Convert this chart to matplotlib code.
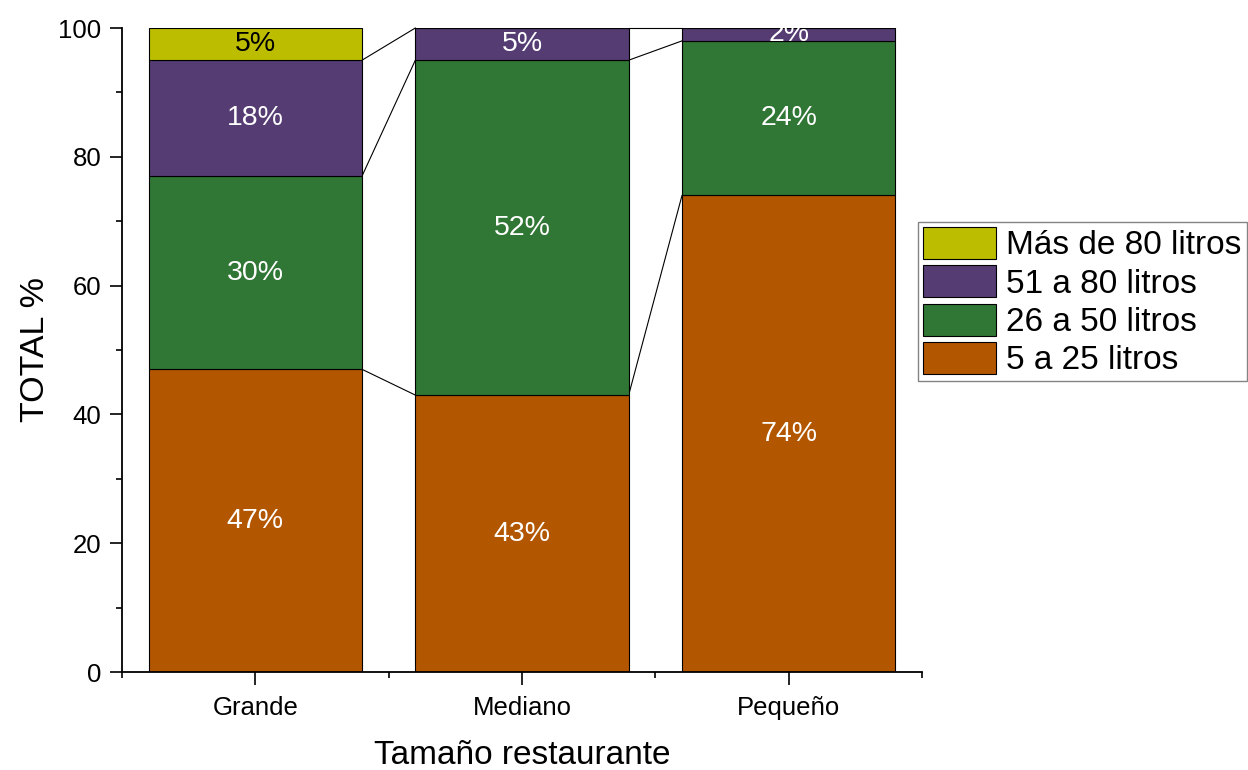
import numpy as np
import matplotlib
matplotlib.use("Agg")
import matplotlib.pyplot as plt
from matplotlib.ticker import MultipleLocator, FixedLocator

plt.rcParams['font.family'] = ['Liberation Sans', 'DejaVu Sans']

# Restaurant size categories and share (%) of each consumption range
categories = ["Grande", "Mediano", "Pequeño"]
series_names = ["5 a 25 litros", "26 a 50 litros", "51 a 80 litros", "Más de 80 litros"]
v_5_25 = [47, 43, 74]
v_26_50 = [30, 52, 24]
v_51_80 = [18, 5, 2]
v_mas_80 = [5, np.nan, np.nan]   # no data for medium and small restaurants

colors = ["#B35600", "#307634", "#553C73", "#BDBD00"]
label_colors = ["white", "white", "white", "black"]

values = [v_5_25, v_26_50, v_51_80, v_mas_80]

fig = plt.figure(figsize=(12.48, 7.7), dpi=100)
ax = fig.add_axes([122 / 1248, 1 - 672 / 770, 800 / 1248, 644 / 770])

x = np.arange(len(categories))
width = 0.8
bottom = np.zeros(len(categories))
tops = []
handles = []
for vals, name, col, lcol in zip(values, series_names, colors, label_colors):
    arr = np.array(vals, dtype=float)
    h = np.nan_to_num(arr)
    bars = ax.bar(x, h, width, bottom=bottom, color=col, edgecolor="black",
                  linewidth=0.8, label=name, zorder=2)
    handles.append(bars)
    for xi, hi, bi, raw in zip(x, h, bottom, arr):
        if np.isnan(raw) or hi <= 0:
            continue
        ax.text(xi, bi + hi / 2, f"{raw:g}%", ha="center", va="center",
                fontsize=20.5, color=lcol, zorder=3, clip_on=True)
    top = bottom + h
    # cumulative top, undefined where the series has no data
    tops.append(np.where(np.isnan(arr), np.nan, top))
    bottom = top

# connecting lines between adjacent columns at each series boundary
for t in tops:
    for j in range(len(categories) - 1):
        if np.isnan(t[j]) or np.isnan(t[j + 1]):
            continue
        ax.plot([x[j] + width / 2, x[j + 1] - width / 2], [t[j], t[j + 1]],
                color="black", linewidth=0.8, zorder=1, clip_on=False)

ax.set_xlim(-0.5, 2.5)
ax.set_ylim(0, 100)

ax.spines["top"].set_visible(False)
ax.spines["right"].set_visible(False)
for s in ("left", "bottom"):
    ax.spines[s].set_linewidth(1.3)

ax.set_xticks(x)
ax.set_xticklabels(categories)
ax.xaxis.set_minor_locator(FixedLocator([-0.5, 0.5, 1.5, 2.5]))
ax.yaxis.set_major_locator(MultipleLocator(20))
ax.yaxis.set_minor_locator(MultipleLocator(10))
ax.tick_params(axis="both", which="major", direction="out", length=9,
               width=1.2, labelsize=18.5, pad=6)
ax.tick_params(axis="x", which="major", pad=8)
ax.tick_params(axis="both", which="minor", direction="out", length=4.5,
               width=1.2)

ax.set_xlabel("Tamaño restaurante", fontsize=24, labelpad=15)
ax.set_ylabel("TOTAL %", fontsize=24.5, labelpad=5)

leg = fig.legend(handles[::-1], series_names[::-1], loc="upper left",
                 bbox_to_anchor=(918 / 1248, 1 - 222 / 770), fontsize=24,
                 frameon=True, fancybox=False, edgecolor="#666666",
                 handlelength=2.2, handleheight=1.1, labelspacing=0.12,
                 handletextpad=0.3, borderpad=0.15, borderaxespad=0)
leg.get_frame().set_linewidth(1.0)

fig.savefig("out.png", dpi=100)
